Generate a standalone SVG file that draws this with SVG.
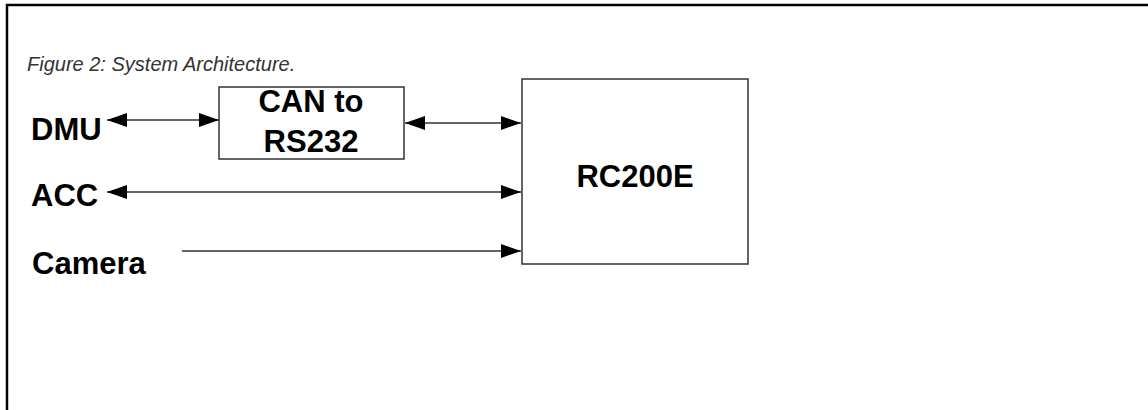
<svg xmlns="http://www.w3.org/2000/svg" width="1148" height="410" viewBox="0 0 1148 410">
  <style>
    .lbl { font-family: "Liberation Sans", Arial, sans-serif; font-weight: bold; font-size: 31px; fill: #000; }
    .cap { font-family: "Liberation Sans", Arial, sans-serif; font-style: italic; font-size: 20px; fill: #333; }
    .box { fill: #fff; stroke: #333; stroke-width: 1.5; }
    .wire { stroke: #333; stroke-width: 1.5; fill: none; }
    .frame { stroke: #000; stroke-width: 2.5; fill: none; }
  </style>
  <defs>
    <marker id="ah" markerUnits="userSpaceOnUse" markerWidth="22" markerHeight="16" refX="20" refY="7" orient="auto-start-reverse">
      <path d="M0,0 L20,7 L0,14 Z" fill="#000"/>
    </marker>
  </defs>
  <rect x="0" y="0" width="1148" height="410" fill="#fff"/>
  <path class="frame" d="M7,410 L7,5 L1148,5"/>
  <text class="cap" x="27" y="71">Figure 2: System Architecture.</text>

  <g id="connectors">
    <line class="wire" x1="107" y1="120" x2="219" y2="120" marker-start="url(#ah)" marker-end="url(#ah)"/>
    <line class="wire" x1="405" y1="123" x2="521" y2="123" marker-start="url(#ah)" marker-end="url(#ah)"/>
    <line class="wire" x1="107" y1="192" x2="521" y2="192" marker-start="url(#ah)" marker-end="url(#ah)"/>
    <line class="wire" x1="182" y1="251" x2="521" y2="251" marker-end="url(#ah)"/>
  </g>

  <g id="dmu"><text class="lbl" x="31" y="140">DMU</text></g>
  <g id="acc"><text class="lbl" x="31" y="206">ACC</text></g>
  <g id="camera"><text class="lbl" x="32" y="274">Camera</text></g>

  <g id="can-rs232">
    <rect class="box" x="219" y="87" width="185" height="72"/>
    <text class="lbl" x="311" y="112" text-anchor="middle">CAN to</text>
    <text class="lbl" x="311" y="152" text-anchor="middle">RS232</text>
  </g>

  <g id="rc200e">
    <rect class="box" x="522" y="79" width="226" height="185"/>
    <text class="lbl" x="635" y="187" text-anchor="middle">RC200E</text>
  </g>
</svg>
